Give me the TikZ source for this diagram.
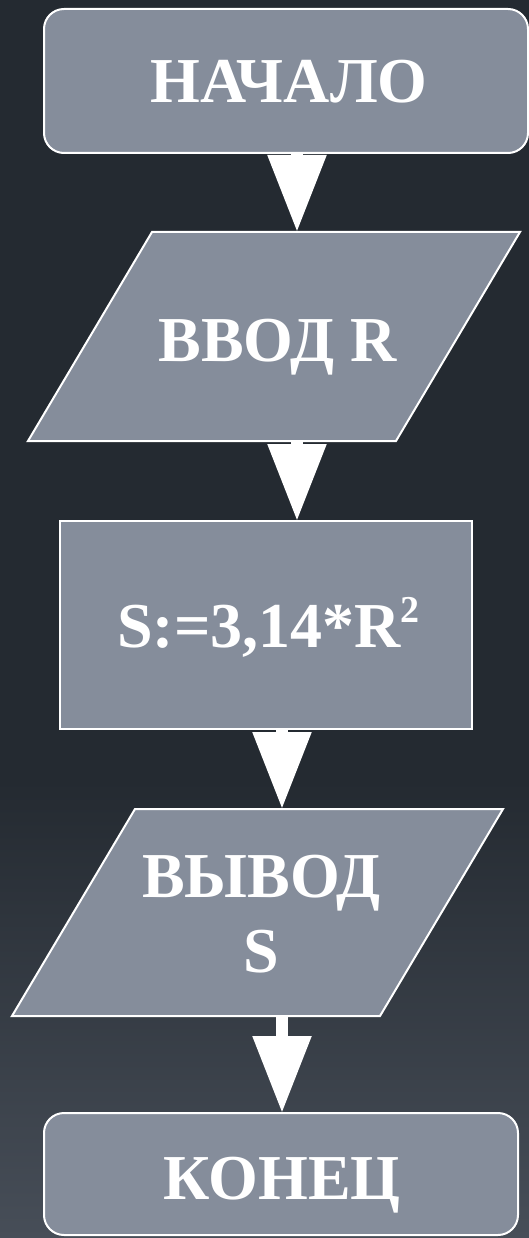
\documentclass[tikz,border=0pt]{standalone}
\usepackage{fontspec}
\setmainfont{Liberation Serif}
\usetikzlibrary{arrows.meta}
\definecolor{bgtop}{HTML}{242A31}
\definecolor{bgbot}{HTML}{474E58}
\definecolor{boxfill}{HTML}{858D9B}
\newcommand{\supdigit}[1]{\raisebox{25pt}{\fontsize{38}{38}\selectfont #1}}
\tikzset{
  box/.style={draw=white, line width=2pt, fill=boxfill, inner sep=0pt, outer sep=0pt},
  term/.style={box, rectangle, rounded corners=20pt},
  frame/.style={inner sep=0pt, outer sep=0pt},
  txt/.style={text=white, font=\fontsize{64}{75}\selectfont\bfseries, inner sep=0pt, anchor=base, align=center},
  flow/.style={draw=white, line width=12pt, -{Triangle[width=56pt,length=77pt]}}
}
\begin{document}
\begin{tikzpicture}[x=1pt, y=-1pt]
  % background
  \useasboundingbox (0,0) rectangle (529,1238);
  \fill[bgtop] (0,0) rectangle (529,1238);
  \shade[top color=bgtop, bottom color=bgbot] (0,780) rectangle (529,1238);

  % terminals and process block
  \node[term, minimum width=484pt, minimum height=144pt] (start) at (286,81) {};
  \node[box, minimum width=412pt, minimum height=208pt] (calc) at (266,625) {};
  \node[term, minimum width=474pt, minimum height=122pt] (stop) at (281,1174) {};

  % input / output parallelograms
  \node[frame, minimum width=492pt, minimum height=209pt] (in) at (274,336.5) {};
  \draw[box] ([xshift=124pt]in.north west) -- (in.north east)
    -- ([xshift=-124pt]in.south east) -- (in.south west) -- cycle;
  \node[frame, minimum width=491pt, minimum height=207pt] (out) at (257.5,912.5) {};
  \draw[box] ([xshift=123pt]out.north west) -- (out.north east)
    -- ([xshift=-123pt]out.south east) -- (out.south west) -- cycle;

  % labels
  \node[txt] (tstart) at (289,103) {НАЧАЛО};
  \node[txt] (tin) at (277.5,361) {ВВОД R};
  \node[txt] (tcalc) at (268.5,647) {S:=3,14*R\supdigit{2}};
  \node[txt] (tout1) at (261.5,897) {ВЫВОД};
  \node[txt] (tout2) at (261.5,972) {S};
  \node[txt] (tstop) at (282,1199) {КОНЕЦ};

  % connectors
  \coordinate (c1) at (297,0);
  \coordinate (c2) at (282,0);
  \draw[flow] (start.south -| c1) -- (in.north -| c1);
  \draw[flow] (in.south -| c1) -- (calc.north -| c1);
  \draw[flow] (calc.south -| c2) -- (out.north -| c2);
  \draw[flow] (out.south -| c2) -- (stop.north -| c2);
\end{tikzpicture}
\end{document}
